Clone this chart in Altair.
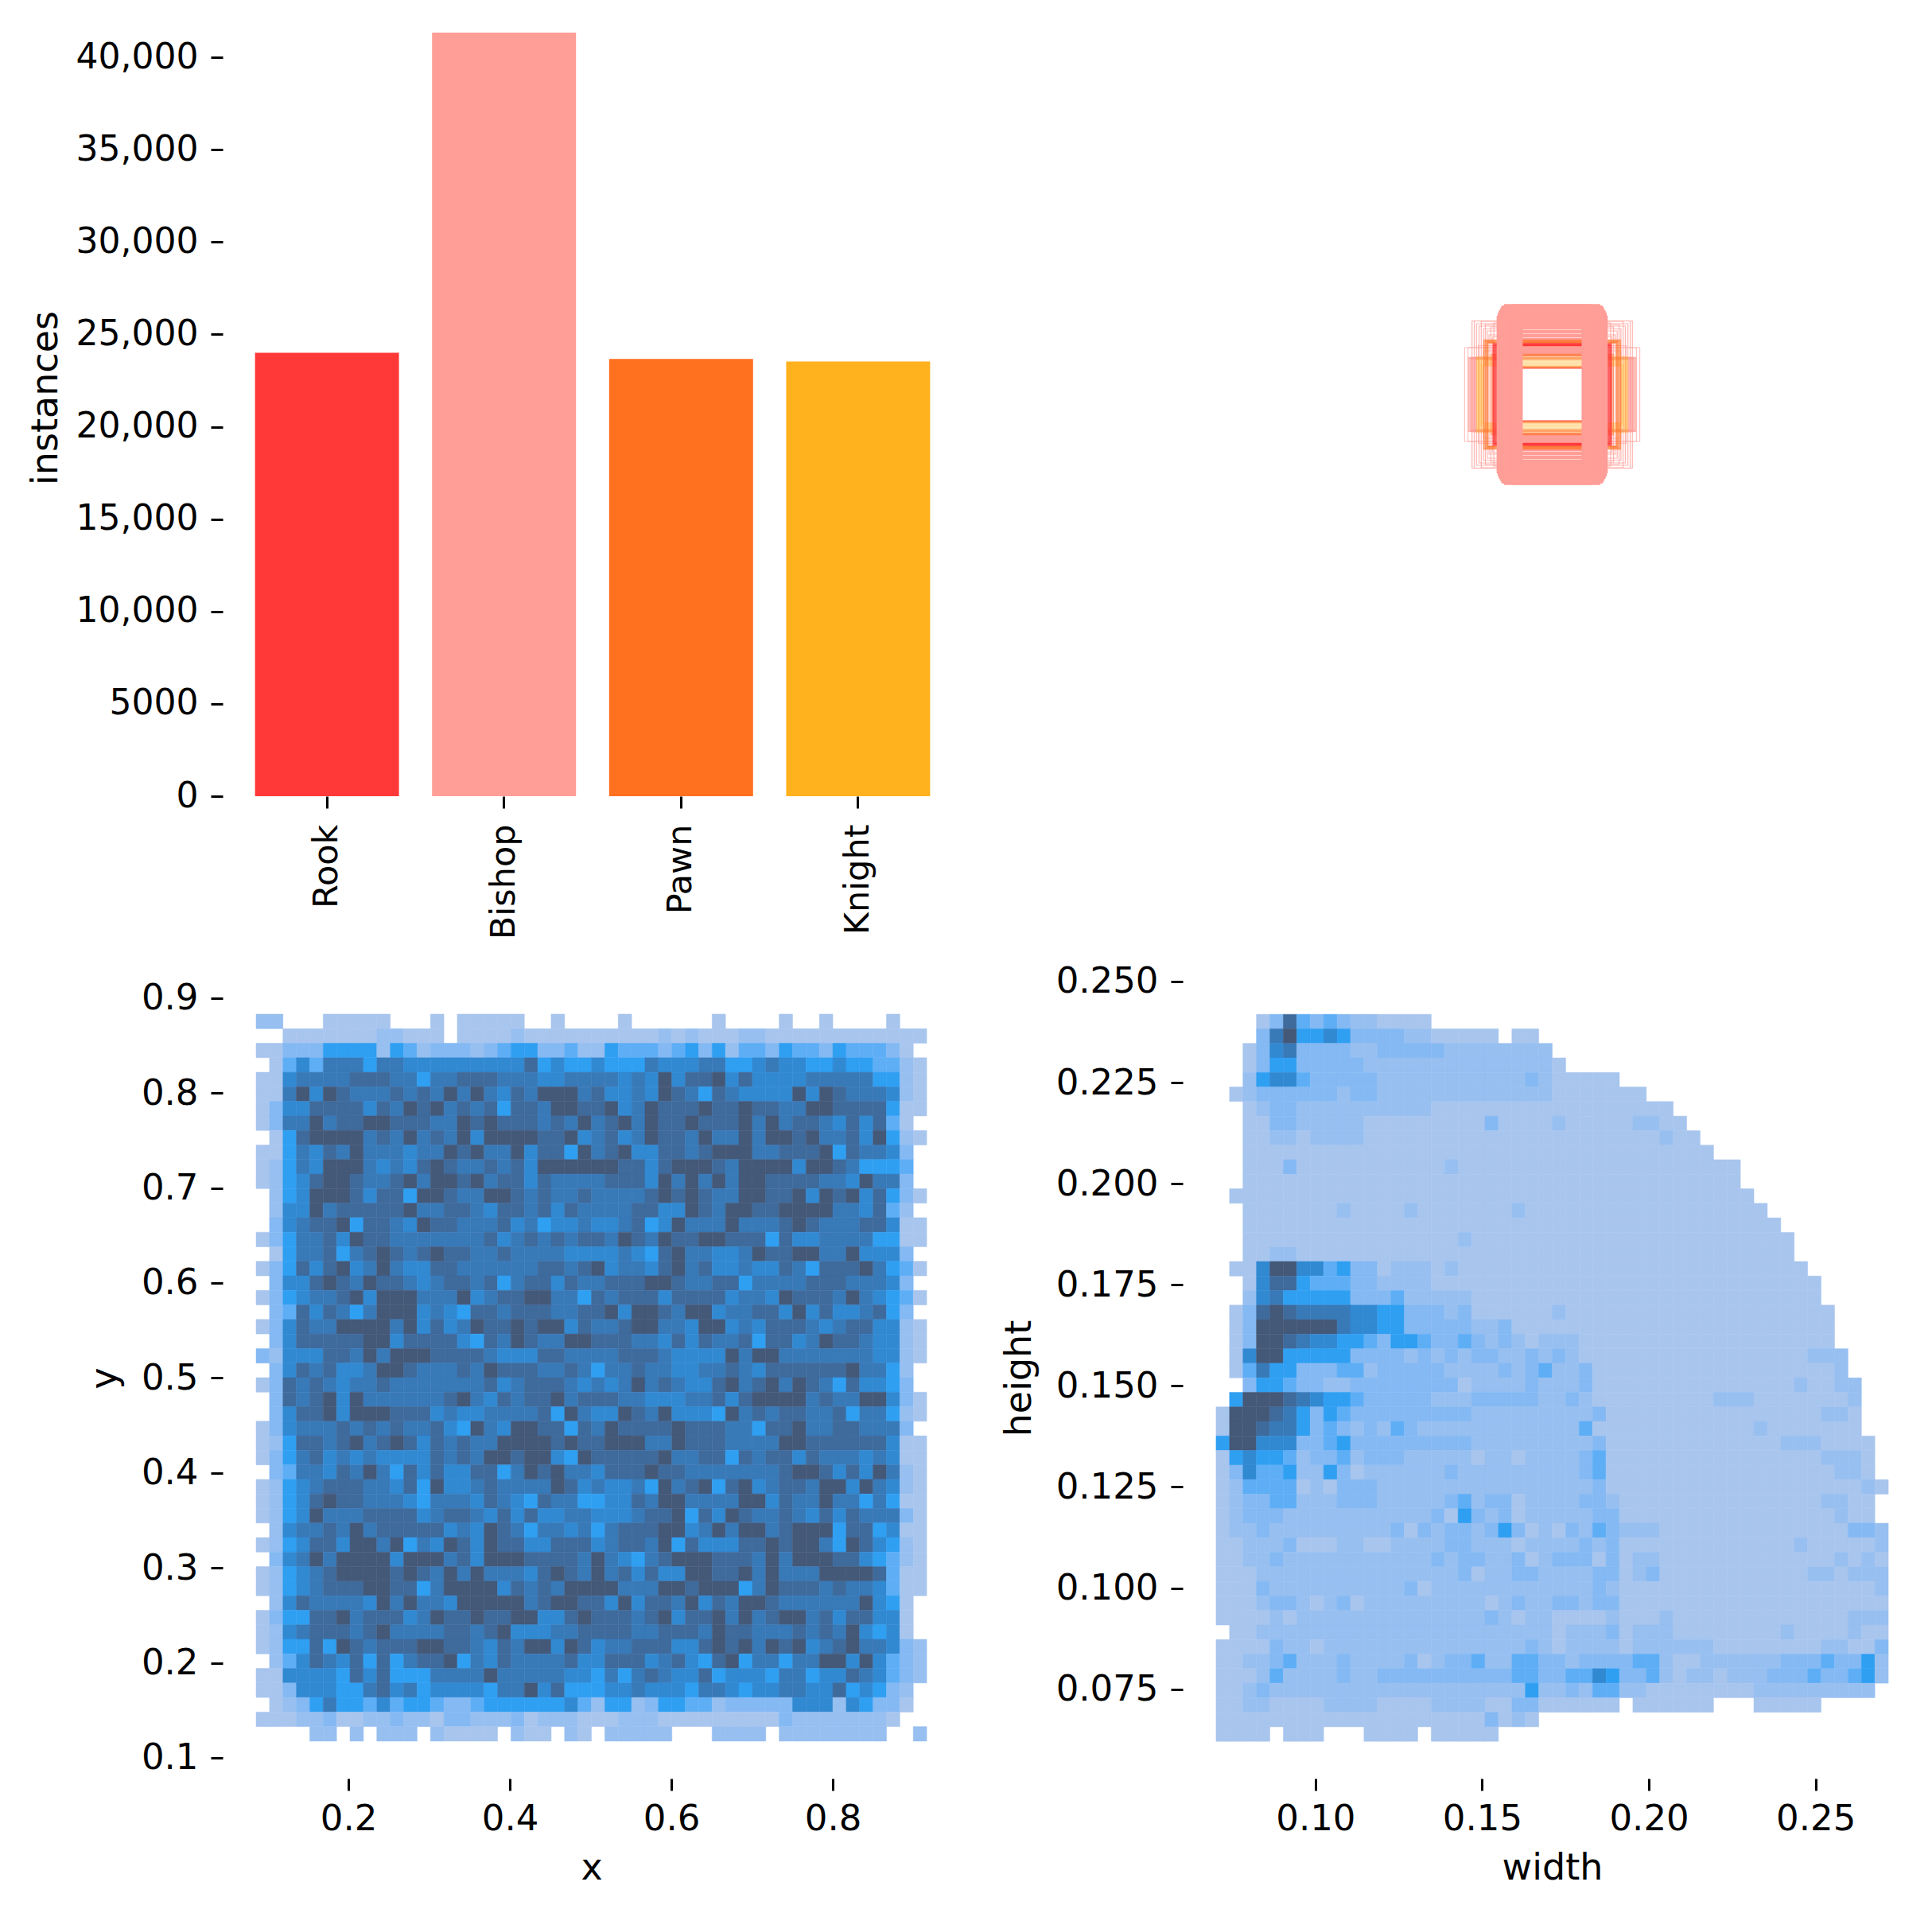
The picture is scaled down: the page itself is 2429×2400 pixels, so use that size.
import altair as alt
import pandas as pd

FONT = "DejaVu Sans"

# ---- class bars ----
CLASSES = ["Rook", "Bishop", "Pawn", "Knight"]
INSTANCES = [24000, 41330, 23667, 23533]
CLASS_COLORS = ["#FF3838", "#FF9D97", "#FF701F", "#FFB21D"]
INSTANCE_TICKS = [0, 5000, 10000, 15000, 20000, 25000, 30000, 35000, 40000]

# ---- box outlines (width, height) as fractions of the image panel ----
BOX_FAINT = [(.237, .118), (.228, .118), (.200, .123), (.186, .110)]
BOX_GRID = [(.217, .185), (.211, .185), (.205, .178), (.198, .172), (.192, .184), (.186, .165),
            (.181, .176), (.176, .160), (.171, .150), (.166, .170), (.162, .145), (.158, .180)]
BOX_SIDE = [(.226, .092), (.222, .091), (.219, .093), (.216, .090), (.213, .092), (.210, .091), (.207, .089)]
BOX_WIDE = [(.128, .225), (.130, .222), (.133, .219), (.136, .216), (.138, .213), (.140, .210), (.142, .207),
            (.144, .204), (.145, .201), (.146, .198), (.147, .195), (.146, .192), (.144, .189), (.147, .186),
            (.145, .183), (.143, .180), (.146, .177), (.144, .174), (.147, .171), (.145, .168), (.143, .165),
            (.146, .160), (.144, .157), (.145, .155), (.146, .150), (.143, .147), (.145, .145), (.144, .140),
            (.146, .137), (.143, .134), (.145, .131), (.147, .128), (.144, .125), (.146, .122), (.143, .119),
            (.145, .116), (.144, .113), (.146, .110), (.143, .107), (.145, .104), (.147, .101), (.144, .098),
            (.143, .069), (.146, .066)]
BOX_YELLOW = [(.204, .095), (.202, .092), (.200, .090), (.198, .087), (.196, .085), (.194, .082),
              (.192, .079), (.190, .077), (.188, .074), (.186, .072)]
BOX_ORANGE = [(.185, .137), (.182, .135), (.179, .133), (.176, .131), (.174, .130), (.165, .101),
              (.160, .098), (.130, .068), (.135, .069)]
BOX_RED = [(.160, .128), (.158, .124), (.156, .125), (.154, .123), (.152, .124), (.150, .126)]
BOX_TALL = [(.082, .205), (.085, .215), (.088, .210), (.091, .225), (.094, .220), (.097, .212), (.100, .224),
            (.103, .208), (.106, .218), (.109, .225), (.112, .210), (.115, .222), (.118, .216), (.121, .224),
            (.124, .206), (.127, .225), (.130, .218), (.133, .222), (.136, .220), (.139, .215), (.142, .210),
            (.145, .204), (.148, .196)]

# ---- 2D histogram of box centres: one digit per cell, 0 = empty, 9 = densest ----
XY_X_RANGE = (0.0857, 0.9163)
XY_Y_RANGE = (0.8831, 0.1176)
XY_ROWS = [
    "22000 11111 000 1 0 11111 00 1 00   00 1 000000 1 0000 1 00 1 0000 1 00",
    "00 1111111 2 2 11 1 0 1111 2 11111   11111 2 1 2 111 22 1 111111111 11",
    "11 333 5555 2 5 4 2 33 3 2 3 4 5 5 3 3 4 2   2 5 444 3 4 5 3 5 2 44 3 544 3 5 444 3 1 0",
    "01 4 6 4 777 5 77 66 666666 6 8 5 6 55   655 5 7 666 77 5 5 6 7 6655 6 55 44 2 1",
    "11 6 7777 888 77 5 77 888 777 66 77   7767 6 9 6 88 9 6 8 66667 7777 55 2 1",
    "11 7 9 6 9 87 77 8 7 8 7 9 7 9 76 8 7 999 7   8 6 6 7 6 9 8 7 5 87 666 6 9 6 9 8 777 6 2 1",
    "13 66 8 888 6 8 7 98 9 7 8 7 8 5 8 8 7 9 9 8   8 9 6 7 9 888 9 88 9 88 77 9 9 8 888 5 1 1",
    "13 77 9 7 88 99 888 77 9 8 9 888 7 8 7 9   7 8 9 7 9 88 9 888 9 7 9 7 88 76 8 6 8 4 1 0",
    "01 5 8 99 99 7 8 7 9 7 8 7 9 6 999 9 88 9 6   7 8 6 7 9 88 7 9 77 9 7 99 8 9 77 8 6 9 5 2 1",
    "11 5 7 6 87 9 7 77 6 77 9 8 9 77 9 6 88 5 9   7 8 9 66 88 7 8 99 9 7 7 88 8 9 5 8 77 6 3 0",
    "12 5 7 6 999 767 6 8 9 8 778 78 6 9999   99 88 6 8 999 8 7 999 9 6 99 8 7 55 5 4 0",
    "12 5 6 8 99 877 8 9 7 998 9 7 88 6 8 777   7 8 88 6 9 7 9 7 9 7 99 888 8 77 6 9 7 7 3 0",
    "02 5 6 999 8 6 88 5 99 8 7 7 99 8 7 87 7 8   7777 8 9 8 9 8 77 99 88 9 6 9 89 6 8 5 3 1",
    "02 66 9 7 88888 9 77 88 7 6 88 7 8 6 8 7   777 8 8 66 9 8 7 99 88 9999 7 7 6 8 4 2 0",
    "03 6 7 88 9 5 88 7 6 9 8 8 777 8 6 7 5 66 7   66 7 8 5 6 9 777 9 77 7 8 9 8 777 88 6 1 1",
    "13 5 7 7 8 6 9 88 7777 777 8 6 7 8 7 8 7 8   8 7 98 7 9 88 99 888 5 8 66 7777 5 5 1 1",
    "01 5 7 7 8 5 7 8 9 8 7 8 9 88 77 8 7777 66   66 76 5 8 9 77 66 7 9 88 99 77 9 6 6 6 3 0",
    "13 5 8 6 8 9 6 7 9 76 6 88 77777 7 88 7 8   9 6 77 6 8 9 78 66 7 66 87 5 888 9 7 5 4 1",
    "03 6 6 8 9 8 7 9 88 7 67 8 8 78 5 7 88 6 8 7   7 888 998 7 7 88 5 7 777 888 777 6 3 0",
    "13 5 6 77 8 9 6 999 7 77 9 6 788 99 7 7 5   8 7 88 8 6 888 8 6 77 6 9 888 7 9 7 6 5 4 1",
    "03 4 8 6 8 7 5 7 999 6 76 5 88 7 888 77 8   8 9 6 99 87 9 9 6 77 8 8 6 9 6 8 66 78 5 3 0",
    "13 6 87 7 9999 7 9 6 8 6 7 9 88 9 8 99 6 8   77 8 99 77 6 99 6 7 6 8 88 76 7 88 6 6 2 1",
    "03 6 88 888 99 6 88 88 6 5 87 9 8 77 99   8 88 77 6 8 6 8 77 8 5 8 8 6 7 9 88 7 66 2 1",
    "32 666 88 7 9 7 999 888 8 7 666 8 8 77   77 888 7 6666 9 7 99 77 777 7 7 66 2 1",
    "03 6 8 7 8 66 7 99 8 77 7 8 7 9 888 77 8 7   5 7 7 8 77 66 77 8 7 6 88 8888 9 77 5 2 0",
    "13 8 7 8 7 6 77 8 777 7 7 77 8 6 788 8 7 6   7 6 7 9 7 8 766 8 9 78 9 7 9 8 7 5 8 66 5 3 0",
    "03 8 7 8 9 6 9 777777 89 76 8 7 88 9 7 8   8 8 77 666 77 8 6 8 99 99 787 7 99 6 3 1",
    "03 6 88 9 6 999 888 676 6777 7 8 5 9 7   66 98 7 9 666 5 9 7 8 7 8877 8 5 77 5 2 1",
    "13 6 7 77 8 7 8 7 877 8 6 5 9 7 6 99 88 5 8   7 9 8888 9 888 7 7 5 889 7 788 777 3 0",
    "12 5 8 8 78 9 78 9 8 6 8 7 8 77 9999 8 9 8   8 9 99 77 9 888 7777 99 8888 88 6 1 1",
    "13 5 7 8 6 7 6 7 6666 8 7 8 7 9 9 8 99 65 9   88888 9 778 8 5 8 78 8 6 8 777 6 7 6 1 1",
    "03 4 77 6 8 7 9 7 5 8 6 8 66 8 8 5 7 9 8 9 77   6 888 98 8 7777 777 8 99 8 6 8 6 9 7 2 1",
    "12 5 6 7 888 77 6 8 5 9 66 7 87777 98 6   7 66 7 5 9 78 9 5 8 9 6 788 7 99 6 9 7 6 2 1",
    "12 5 6 8 9 88 777 6 5 777 6 87 6 5 8 77 5   5 66 87 99 777 7 99 6 8 77 9 77 5 7 5 1 1",
    "12 5 6 9 7 77 8888 67 887 6 8 6 8 66 77   666 78 89 5 8 6 9 8 77 8 76 8 6 8 777 3 1",
    "02 6 7 7 8 7 9 7 8888 8 6 7 6 9 87 5 77 6 7   5 7 888 99 6 7 9 7 99 7 8 999 5 88 5 6 1 1",
    "12 5 6 8 8 6 99 7 9 5 7 6 98 6 9 88 6 6 888   6 7 88 7 9 5 8 66 6 88 9 8 99 7 5 98 6 5 2 1",
    "03 6 7 9 7 9999 6 999 78 6 999 8888 7   9 7 65 78 999 888 7 9 7 99 9 88 65 4 2 1",
    "12 5 6 7 8 9999 8 9 87 9 7 9 777 6 8 9 8 7   9 7 8 6 8 66 99 88 9 7 9 777 9999 8 4 1 1",
    "12 5 6 7 888 99 8 8 5 7 9999 6 8 7 8 7 99   99 777 99 8 999 5 7 9 888 7 8 776 4 1 1",
    "02 6 8 7777 6 9 7 9 776 99999 7 8 99 8   8 6 9 6 887 9 6 8 7 99 87 77777 9 6 5 1 0",
    "13 55 8 8 9 78 8 8 6 7 9 88 9 88 99 6 6 8 9   888 7 89 6 88 9 7 9 7 8 99 7 8 6 88 66 1 0",
    "12 67 888 7 8 9 7777 88 7 8 9 6 6 6 7 7 8   888 77 88 8 7 9 88 7 778 7 8 7 9 656 1 0",
    "12 55 8 5 9 8 7 888 99 8 8 7 6 8 7 99 6 98   6 77 888 66 8 9 8 9 7 989 6 78 9 77 6 3 2",
    "02 4 6 8 7 6 8 5 8 5 788 9 5 7 6 8 7777 8 6   6 888 6 78 6 5 8 9 5 77 5 77 99 6 9 6 4 3 2",
    "11 6666 5 8 6 8 555 777 7 9 77777 66   5 7 5 78 7 66 8 5 666 5 77 5 66 8 7 6 4 3 2",
    "11 3 666 5 5 7 8 6 7 56 666 5 77 9 6 8 55   5 6 6 766 65 77 65 66 776 6 8 5 6 5 3 2 0",
    "01 2 3 5 7 55 4 6 4 55 4 33 45 5555 5 6 4   2 5 5 2 3 55 44 2 33 333 66 6 2 6 5 3 3 1 0",
    "111 223 112 23 22 1 332 22 3 1 222 1   11 2 22 111111111 3 222222 2 1 00",
    "0000 22 0 2 0 222 0 21111 0 2 11 0 21   0 22222 000 2222 0 22222222 00 2",
]

# ---- 2D histogram of box sizes ----
WH_X_RANGE = (0.0702, 0.2718)
WH_Y_RANGE = (0.2419, 0.0621)
WH_ROWS = [
    "000 1 3 8 4 3 4 3 2 2 1 1 1 1",
    "000 3 7 9 5 5 6 5 3 3 3 3 2 2 11111 0 11",
    "00 1 3 6 7 333 3 2 2 33333 22222222",
    "00 1 3 55 3333 3 2 2222222222222   1",
    "00 2 5 66 4 33333 22222222222 3 2   11111",
    "0 1 2 333 3 33 2 33 2222222222222   1111111",
    "00 1 2 33 2222222222 111111111   111111111",
    "00 1 1 33 22222 111111111 3 1111   2111112211",
    "00 1 1 22 1 2222 11111111111111   11111111211",
    "00 11111 11111 11111 11111 111   11111 11111 11",
    "00 111 3 11111111111 2 1111111   11111 11111 1111",
    "00 11111 11111 11111 11111 111   11111 11111 1111",
    "0 11111 11111 11111 11111 1111   11111 11111 11111",
    "00 1111111 2 1111 2 1111111 2 11   11111 11111 11111 1",
    "00 11111 11111 11111 11111 111   11111 11111 11111 11",
    "00 1111111111111111 2 111111   11111 11111 11111 111",
    "00 11 22 1111111111111111111   11111 11111 11111 111",
    "0 11 6 99 6 6 4 5 33 1 222 1 2 1111111   11111 11111 11111 1111",
    "00 1 6 88 5 444 3 3 2222 111111111   11111 11111 11111 11111",
    "00 2 6 7 55 555 333 4 22222 111111   11111 11111 11111 11111",
    "0 1 3 8 9 8 7777 66 55 333 2 3 111111   21111 11111 11111 11111 1",
    "0 1 3 99 999 9 7 665 5 33333 2 2 3 111   11111 11111 11111 11111 1",
    "0 1 3 99 8 766 5 5 4 3 554 33 4 3 2 3 2 1 2   22111 11111 11111 11111 1",
    "0 1 6 99 55555 333 3 2 3 2 3 2 3 3 2 2 3 2   32111 11111 11111 11112 22",
    "0 1 4 7 5 5 333 4 4 2 33333 2222 3 2 3 4   22311 11111 11111 11111 12",
    "00 3 5 5 4 3 3 2 2 3 3 3 3 3 3 3 3 1 2 2 2 2 3 2   22311 11111 11111 11121 122",
    "0 5 9 9 9 8 7 6 55 4 33333 222 33333 2   23211 11111 11222 11111 112",
    "1 999 8 7 5 3 5 4 33333333 3 222222   22231 11111 11111 11111 221",
    "1 99 8 7 7 5 3 4 3 2 3 2 4 3 2222222222   22411 11111 11111 21111 111",
    "5 99 666 33 4 5 333333333 222222   22231 11111 11111 11222 1111",
    "1 5 6 55 4 2 3 3 4 2 333 22222 1 22122   22341 11111 11111 11111 2221",
    "1 3 6 44 5 2 2 5 3 1 222222 3 2 222222   22341 11111 11111 11111 1221",
    "1 2 4444 1 2 1 333 2222222222222   22231 11111 11111 11111 11121",
    "1 2 33 44 222 33322222 34 2 3 3 1 22   22332 11111 11111 11111 2211",
    "1 2 33 3 2 2222222222 3 1 5 3 23 1 22   22233 11111 11111 11111 1211",
    "1 22 3 22 222222 2 3 1 3 2 33 2 3 5 3 1 2   13243 22211 11111 11111 11332",
    "1 12 22 3 111 221 1 2 222 3322 2 1 22   22323 11111 11111 11121 11112",
    "1 1 22 3 2 2222222222 3 23 3 22 3 1 2   33313 12211 11111 11111 12121",
    "111 222222222222222 3 1 22 33 2   22233 12311 11111 11112 21222",
    "111 3 2222222222 3 1 222222222   22232 11111 11111 11111 11112",
    "111 2 33 2 1 2 3 1 222222222 1 2 3 22   33233 11111 11111 11111 11111",
    "111 1 2 1 2222222222222 2 3 2 1 2 2   11112 11121 11111 11111 11222",
    "0 11 2222222222222222222222   12223 12221 11111 11211 11211",
    "111 1 3 2 212 22222222222222 3 2   12222 12222 22111 11111 22113",
    "11 22 3 4 222 3 2222 3 1 2 33 4 22 44 3   32333 34421 12222 22333 43352",
    "111 2 4 2222 3 2233 33333333 4 4 3   34465 33421 22122 23334 33452",
    "11 2 3 222222 2222222222222 5 2   23244 22111 11111 22222 2222",
    "11 22 111122221111222211 33 1   11111 0 111111 000 11111",
    "11111 11111 11111 11111 3 1 2 1",
    "1111 0 111 000 1111 0 11111",
]

LEVELS = [1, 2, 3, 4, 5, 6, 7, 8, 9]
LEVEL_COLORS = ["#a8c5ee", "#97bff0", "#84b9f3", "#5eaef6", "#2f9ff2",
                "#3189d2", "#3879b8", "#3e6a9c", "#445878"]


def cells(rows, x_range, y_range):
    out = []
    dx = (x_range[1] - x_range[0]) / 50
    dy = (y_range[1] - y_range[0]) / 50
    for r, text in enumerate(rows):
        digits = text.replace(" ", "")[:50]
        for c, ch in enumerate(digits):
            if ch != "0":
                out.append({
                    "x": x_range[0] + c * dx, "x2": x_range[0] + (c + 1) * dx,
                    "y": y_range[0] + r * dy, "y2": y_range[0] + (r + 1) * dy,
                    "level": int(ch),
                })
    return pd.DataFrame(out)


def heat(rows, x_range, y_range, x_dom, y_dom, x_ticks, y_ticks, x_fmt, y_fmt, x_title, y_title, w, h, pad):
    level_scale = alt.Scale(domain=LEVELS, range=LEVEL_COLORS)
    return alt.Chart(cells(rows, x_range, y_range)).mark_rect(strokeWidth=0.5).encode(
        x=alt.X("x:Q", scale=alt.Scale(domain=x_dom, nice=False, zero=False),
                axis=alt.Axis(values=x_ticks, format=x_fmt, title=x_title, titlePadding=17, labelPadding=13)),
        x2="x2:Q",
        y=alt.Y("y:Q", scale=alt.Scale(domain=y_dom, nice=False, zero=False),
                axis=alt.Axis(values=y_ticks, format=y_fmt, title=y_title, titlePadding=pad)),
        y2="y2:Q",
        color=alt.Color("level:O", scale=level_scale, legend=None),
        stroke=alt.Stroke("level:O", scale=level_scale, legend=None),
    ).properties(width=w, height=h)


bars = alt.Chart(pd.DataFrame({"c": CLASSES, "n": INSTANCES, "col": CLASS_COLORS})).mark_bar().encode(
    x=alt.X("c:N", sort=CLASSES, title=None,
            scale=alt.Scale(paddingInner=0.187, paddingOuter=0.1825),
            axis=alt.Axis(labelAngle=270, labelFontSize=43, labelPadding=20)),
    y=alt.Y("n:Q", scale=alt.Scale(domain=[0, 42239], nice=False),
            axis=alt.Axis(values=INSTANCE_TICKS, title="instances", titlePadding=14, labelFontSize=44, titleY=480,
                          labelExpr="datum.value >= 10000 ? format(datum.value, ',') : format(datum.value, 'd')")),
    color=alt.Color("col:N", scale=None),
).properties(width=930, height=981)


def outlines(boxes, color, width, opacity):
    frame = pd.DataFrame(boxes, columns=["w", "h"])
    frame["x0"] = 0.5 - frame["w"] / 2
    frame["x1"] = 0.5 + frame["w"] / 2
    frame["y0"] = 0.5 - frame["h"] / 2
    frame["y1"] = 0.5 + frame["h"] / 2
    return alt.Chart(frame).mark_rect(fillOpacity=0, stroke=color, strokeWidth=width, strokeOpacity=opacity).encode(
        x=alt.X("x0:Q", scale=alt.Scale(domain=[0, 1], nice=False, zero=False), axis=None),
        x2="x1:Q",
        y=alt.Y("y0:Q", scale=alt.Scale(domain=[-0.005, 0.976], nice=False, zero=False), axis=None),
        y2="y1:Q",
    )


boxes = alt.layer(
    outlines(BOX_FAINT, "#FF9D97", 1.2, 0.6),
    outlines(BOX_GRID, "#FF9D97", 1.2, 0.75),
    outlines(BOX_SIDE, "#FF9D97", 1.8, 0.7),
    outlines(BOX_WIDE, "#FF9D97", 2.2, 1),
    outlines(BOX_YELLOW, "#FFB21D", 1.6, 0.35),
    outlines(BOX_ORANGE, "#FF701F", 1.3, 0.6),
    outlines(BOX_RED, "#FF3838", 1.3, 0.8),
    outlines(BOX_TALL, "#FF9D97", 2.2, 1),
).properties(width=929, height=981)

xy = heat(XY_ROWS, XY_X_RANGE, XY_Y_RANGE, [0.0443, 0.9576], [0.0782, 0.9216],
          [0.2, 0.4, 0.6, 0.8], [0.1, 0.2, 0.3, 0.4, 0.5, 0.6, 0.7, 0.8, 0.9],
          ".1f", ".1f", "x", "y", 927, 1007, 22)
wh = heat(WH_ROWS, WH_X_RANGE, WH_Y_RANGE, [0.0602, 0.2818], [0.0529, 0.25098],
          [0.10, 0.15, 0.20, 0.25], [0.075, 0.100, 0.125, 0.150, 0.175, 0.200, 0.225, 0.250],
          ".2f", ".3f", "width", "height", 929, 1007, 22)

chart = alt.concat(
    bars, boxes, xy, wh, columns=2, spacing={"row": 228, "column": 277}, bounds="flush",
).properties(
    padding={"left": 26, "top": 12, "right": 5, "bottom": 5}, background="white",
).configure_view(stroke=None).configure_axis(
    domain=False, grid=False, labelFont=FONT, titleFont=FONT, labelFontSize=45, titleFontSize=46,
    titleFontWeight="normal", labelColor="#000000", titleColor="#000000", tickColor="#000000",
    tickSize=15, tickWidth=3, labelPadding=16, labelOverlap=False, labelFlush=False,
)

chart.save("out.html", embed_options={"renderer": "svg", "actions": False})
